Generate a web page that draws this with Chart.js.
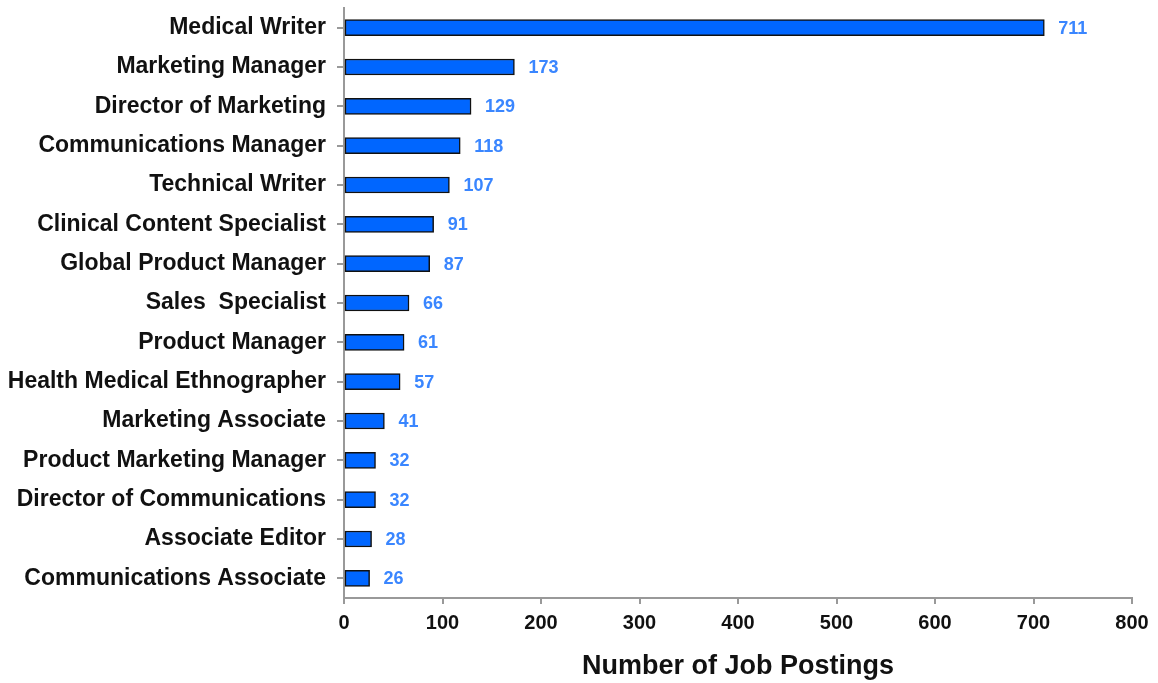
<!DOCTYPE html>
<html lang="en">

<head>
  <meta charset="UTF-8" />
  <title>Job Postings</title>
  <style>
    body {
      margin: 0;
      background: #fff;
    }
  </style>
</head>

<body>
  <canvas id="myChart" width="1158" height="683"></canvas>

  <script src="https://cdn.jsdelivr.net/npm/chart.js"></script>
  <script>
    const jobTitles = [
      "Medical Writer",
      "Marketing Manager",
      "Director of Marketing",
      "Communications Manager",
      "Technical Writer",
      "Clinical Content Specialist",
      "Global Product Manager",
      "Sales  Specialist",
      "Product Manager",
      "Health Medical Ethnographer",
      "Marketing Associate",
      "Product Marketing Manager",
      "Director of Communications",
      "Associate Editor",
      "Communications Associate",
    ];
    const postings = [711, 173, 129, 118, 107, 91, 87, 66, 61, 57, 41, 32, 32, 28, 26];
    const xTicks = [0, 100, 200, 300, 400, 500, 600, 700, 800];

    Chart.defaults.font.family = "'Liberation Sans', Arial, sans-serif";
    Chart.defaults.color = "#111";

    // value labels right of each bar
    const valueLabels = {
      id: "valueLabels",
      afterDatasetsDraw(chart) {
        const c = chart.ctx;
        const meta = chart.getDatasetMeta(0);
        c.save();
        c.font = "bold 18px 'Liberation Sans', Arial, sans-serif";
        c.fillStyle = "#3a86ff";
        c.textAlign = "left";
        c.textBaseline = "middle";
        meta.data.forEach((bar, i) => {
          c.fillText(postings[i], bar.x + 14, bar.y + 1);
        });
        c.restore();
      },
    };

    const ctx = document.getElementById("myChart");
    new Chart(ctx, {
      type: "bar",
      data: {
        labels: jobTitles,
        datasets: [
          {
            data: postings,
            backgroundColor: "#0066ff",
            borderColor: "#111",
            borderWidth: 1.5,
            borderSkipped: false,
            barThickness: 16,
          },
        ],
      },
      options: {
        indexAxis: "y",
        responsive: false,
        animation: false,
        layout: { padding: { top: 8, right: 26, left: 0, bottom: 0 } },
        plugins: {
          legend: { display: false },
          tooltip: { enabled: false },
        },
        scales: {
          x: {
            min: xTicks[0],
            max: xTicks[xTicks.length - 1],
            afterBuildTicks: (s) => {
              s.ticks = xTicks.map((v) => ({ value: v }));
            },
            afterFit: (s) => {
              s.height = 683 - 598;
            },
            ticks: {
              font: { size: 20, weight: "bold" },
              color: "#111",
              padding: 7,
            },
            grid: {
              drawOnChartArea: false,
              tickLength: 6,
              color: "#999",
              lineWidth: 2,
            },
            border: { color: "#999", width: 2 },
            title: {
              display: true,
              text: "Number of Job Postings",
              font: { size: 27, weight: "bold" },
              color: "#111",
              padding: { top: 0, bottom: 0 },
            },
          },
          y: {
            afterFit: (s) => {
              s.width = 344;
              s.paddingTop = 0;
              s.paddingBottom = 0;
            },
            ticks: {
              font: { size: 23, weight: "bold" },
              color: "#111",
              padding: 11,
            },
            grid: {
              offset: false,
              drawOnChartArea: false,
              tickLength: 7,
              color: "#999",
              lineWidth: 2,
            },
            border: { color: "#999", width: 2 },
          },
        },
      },
      plugins: [valueLabels],
    });
  </script>
</body>

</html>
